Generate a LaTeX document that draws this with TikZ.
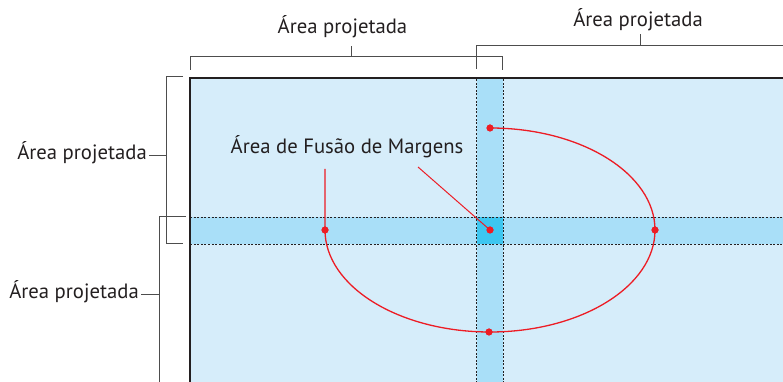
\documentclass[tikz,border=0pt]{standalone}
\usepackage{fontspec}
\setmainfont{PT Sans}
\usetikzlibrary{positioning,calc}
\definecolor{ink}{HTML}{231F20}
\definecolor{screen}{HTML}{D6EDFA}
\definecolor{band}{HTML}{A9DFF8}
\definecolor{blend}{HTML}{3DC6F0}
\definecolor{mark}{HTML}{ED1C24}
\definecolor{brkgray}{HTML}{4D4D4D}

\begin{document}
\begin{tikzpicture}[
  x=1pt, y=1pt,
  areatext/.style={font=\fontsize{20.7}{24}\selectfont, text=ink, inner sep=2pt},
  brk/.style={draw=brkgray, line width=1pt},
  seam/.style={draw=ink, line width=0.8pt, dash pattern=on 2pt off 1.6pt},
  redline/.style={draw=mark, line width=1.3pt},
  reddot/.style={circle, fill=mark, inner sep=0pt, minimum size=7pt}
]
  \clip (0,0) rectangle (783,382);

  % Screen and blend bands
  \fill[screen] (190,-5) rectangle (790,304);
  \fill[band] (476.5,-5) rectangle (503,304);
  \fill[band] (190,138) rectangle (790,165);
  \fill[blend] (476.5,138) rectangle (503,165);
  \draw[seam] (476.5,-5) -- (476.5,304);
  \draw[seam] (503,-5) -- (503,304);
  \draw[seam] (190,138) -- (790,138);
  \draw[seam] (190,165) -- (790,165);
  \draw[ink, line width=2.5pt] (190,-5) -- (190,304) -- (790,304);

  % Brackets
  \draw[brk] (190,312) -- (190,325) -- (502,325) -- (502,312);
  \draw[brk] (476,313) -- (476,336) -- (790,336);
  \draw[brk] (183,305) -- (166.7,305) -- (166.7,138) -- (183,138);
  \draw[brk] (186,165) -- (159,165) -- (159,-5);
  \coordinate (B1) at (351,325);
  \coordinate (B2) at (640,336);
  \coordinate (B3) at (166.7,226);
  \coordinate (B4) at (159,87);

  % Labels
  \node[areatext] (P1) at (342.5,355.5) {Área projetada};
  \node[areatext] (P2) at (638,362.5) {Área projetada};
  \node[areatext, anchor=east] (P3) at (149,229.5) {Área projetada};
  \node[areatext, anchor=east] (P4) at (141,90) {Área projetada};
  \draw[brk] (B1) -- ++(0,11);
  \draw[brk] (B2) -- ++(0,12);
  \draw[brk] (P3.east |- B3) -- (B3);
  \draw[brk] (P4.east |- B4) -- (B4);

  % Edge blending marks
  \node[reddot] (D0) at (490,254) {};
  \node[reddot] (D1) at (325,152) {};
  \node[reddot] (D2) at (490,152) {};
  \node[reddot] (D3) at (655,152) {};
  \node[reddot] (D4) at (489,50) {};
  \node[areatext] (F) at (347,235.5) {Área de Fusão de Margens};
  \coordinate (FA) at (325,213);
  \coordinate (FB) at (418,215);
  \draw[redline] (D0.center) arc[start angle=90, end angle=-180, x radius=165pt, y radius=102pt] -- (FA);
  \draw[redline, line width=1pt] (FB) -- (D2.center);
  \foreach \d in {D0,D1,D2,D3,D4} \node[reddot] at (\d) {};

\end{tikzpicture}
\end{document}
